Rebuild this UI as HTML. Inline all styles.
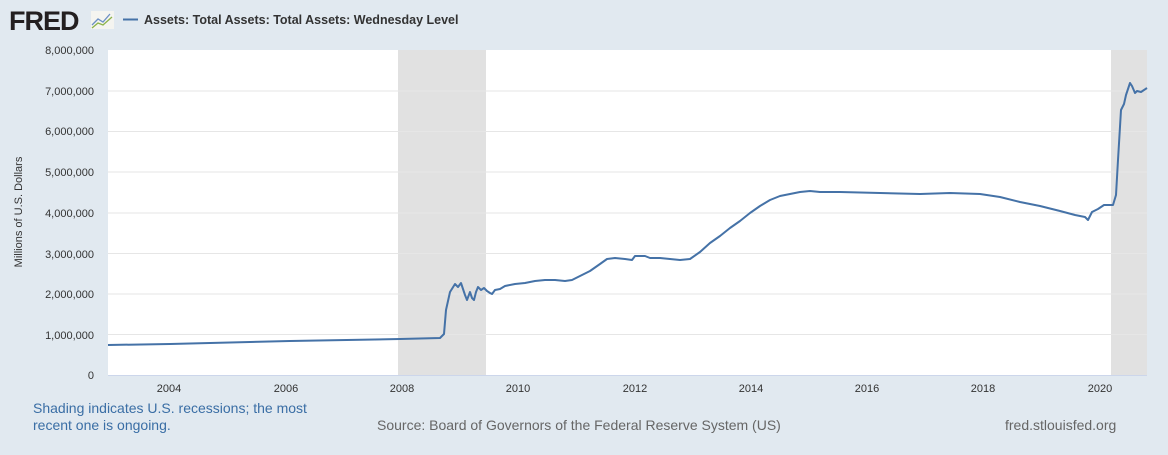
<!DOCTYPE html>
<html><head><style>
body{margin:0;background:#e1e9f0;font-family:"Liberation Sans",sans-serif;}
</style></head><body>
<svg width="1168" height="450" xmlns="http://www.w3.org/2000/svg" font-family="Liberation Sans, sans-serif">
<rect width="1168" height="450" fill="#e1e9f0"/>
<text x="9" y="30" font-size="27" font-weight="bold" fill="#231f20" letter-spacing="-1">FRED</text>
<rect x="91" y="11" width="23" height="18" fill="#f4f4f0"/>
<polyline points="92,25 98,19 103,22 110,14" fill="none" stroke="#6b8fc4" stroke-width="1.3"/>
<polyline points="92,28 98,23 103,25 112,17" fill="none" stroke="#8cb34a" stroke-width="1.3"/>
<line x1="123" y1="19.5" x2="138" y2="19.5" stroke="#4572a7" stroke-width="2"/>
<text x="144" y="24" font-size="12.5" font-weight="bold" fill="#333">Assets: Total Assets: Total Assets: Wednesday Level</text>
<rect x="108" y="50" width="1039" height="325" fill="#fff"/>
<rect x="398" y="50" width="88" height="325" fill="#e1e1e1"/>
<rect x="1111" y="50" width="36" height="325" fill="#e1e1e1"/>
<g stroke="#e6e6e6" stroke-width="1">
<line x1="108" x2="1147" y1="91" y2="91"/><line x1="108" x2="1147" y1="131.5" y2="131.5"/>
<line x1="108" x2="1147" y1="172" y2="172"/><line x1="108" x2="1147" y1="213" y2="213"/>
<line x1="108" x2="1147" y1="253.5" y2="253.5"/><line x1="108" x2="1147" y1="294" y2="294"/>
<line x1="108" x2="1147" y1="334.5" y2="334.5"/>
</g>
<line x1="108" x2="1147" y1="375.5" y2="375.5" stroke="#ccd6eb"/>
<g font-size="11" fill="#333" text-anchor="end">
<text x="94" y="54">8,000,000</text><text x="94" y="95">7,000,000</text><text x="94" y="135">6,000,000</text>
<text x="94" y="176">5,000,000</text><text x="94" y="217">4,000,000</text><text x="94" y="258">3,000,000</text>
<text x="94" y="298">2,000,000</text><text x="94" y="339">1,000,000</text><text x="94" y="379">0</text>
</g>
<text transform="translate(22,212) rotate(-90)" font-size="11" fill="#333" text-anchor="middle">Millions of U.S. Dollars</text>
<g font-size="11" fill="#333" text-anchor="middle">
<text x="169" y="392">2004</text><text x="286" y="392">2006</text><text x="402" y="392">2008</text>
<text x="518" y="392">2010</text><text x="635" y="392">2012</text><text x="751" y="392">2014</text>
<text x="867" y="392">2016</text><text x="983" y="392">2018</text><text x="1100" y="392">2020</text>
</g>
<polyline fill="none" stroke="#4572a7" stroke-width="2" stroke-linejoin="round" points="108,345 170,344 290,341 400,339 440,338 444,334 446,310 450,292 455,284 458,287 461,283 465,295 467,300 470,292 472,298 474,300 476,292 478,287 481,290 484,288 487,291 490,293 492,294 495,290 500,289 505,286 515,284 525,283 535,281 545,280 555,280 565,281 572,280 580,276 590,271 600,264 607,259 615,258 625,259 632,260 635,256 640,256 645,256 650,258 660,258 670,259 680,260 690,259 700,252 710,243 720,236 730,228 740,221 750,213 760,206 770,200 780,196 790,194 800,192 810,191 820,192 840,192 880,193 920,194 950,193 980,194 1000,197 1020,202 1040,206 1060,211 1075,215 1085,217 1088,220 1092,212 1098,209 1104,205 1108,205 1113,205 1116,195 1118,160 1121,110 1124,104 1126,95 1130,83 1132,86 1135,93 1137,91 1141,92 1147,88"/>
<text x="33" y="413" font-size="14" fill="#3a6ea5">Shading indicates U.S. recessions; the most</text>
<text x="33" y="430" font-size="14" fill="#3a6ea5">recent one is ongoing.</text>
<text x="377" y="430" font-size="14" fill="#666">Source: Board of Governors of the Federal Reserve System (US)</text>
<text x="1005" y="430" font-size="14" fill="#666">fred.stlouisfed.org</text>
</svg>
</body></html>
